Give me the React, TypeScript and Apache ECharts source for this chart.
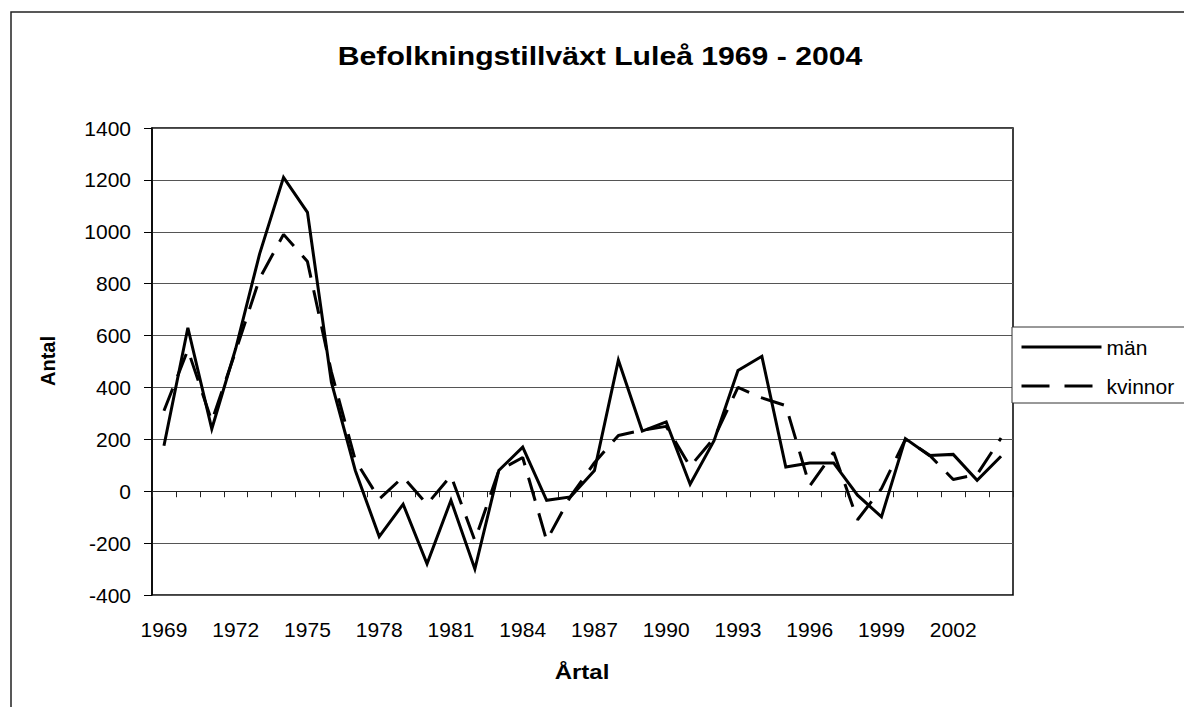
import React, { useEffect, useRef } from "react";
import * as echarts from "echarts";

const years: string[] = [];
for (let y = 1969; y <= 2004; y++) years.push(String(y));

const titleText = "Befolkningstillväxt Luleå 1969 - 2004";
const xAxisTitle = "Årtal";
const yAxisTitle = "Antal";

const menName = "män";
const womenName = "kvinnor";

const men = [175, 630, 240, 550, 915, 1210, 1075, 420, 80, -175, -50, -280, -35, -300, 80, 170, -35, -22, 80, 505, 232, 267, 27, 195, 465, 520, 93, 109, 109, -15, -99, 203, 138, 142, 42, 135];
const women = [310, 545, 270, 540, 820, 990, 885, 460, 120, -30, 55, -50, 60, -190, 80, 130, -190, -20, 110, 215, 235, 250, 95, 205, 400, 360, 330, 20, 150, -110, 10, 200, 140, 45, 65, 205];

const yMin = -400;
const yMax = 1400;
const yStep = 200;

const FONT = "Liberation Sans, Arial, sans-serif";

export default function App() {
  const ref = useRef<HTMLDivElement>(null);
  useEffect(() => {
    if (!ref.current) return;
    const chart = echarts.init(ref.current, undefined, { renderer: "svg" });
    const gLeft = 152, gTop = 128, gW = 861, gH = 467;
    chart.setOption({
      animation: false,
      backgroundColor: "#ffffff",
      grid: {
        left: gLeft,
        top: gTop,
        width: gW,
        height: gH,
        show: true,
        borderColor: "#000",
        borderWidth: 1.5,
        containLabel: false,
      },
      graphic: [
        {
          type: "rect",
          shape: { x: 11, y: 12, width: 1200, height: 720 },
          style: { fill: "none", stroke: "#222", lineWidth: 1.5 },
          silent: true,
          z: -10,
        },
        {
          type: "text",
          x: 600,
          y: 56,
          scaleX: 1.16,
          style: {
            text: titleText,
            font: `bold 26px ${FONT}`,
            fill: "#000",
            align: "center",
            verticalAlign: "middle",
          },
        },
        {
          type: "text",
          x: 582,
          y: 672,
          scaleX: 1.2,
          style: {
            text: xAxisTitle,
            font: `bold 20px ${FONT}`,
            fill: "#000",
            align: "center",
            verticalAlign: "middle",
          },
        },
        {
          type: "text",
          x: 48,
          y: 361,
          rotation: Math.PI / 2,
          style: {
            text: yAxisTitle,
            font: `bold 20px ${FONT}`,
            fill: "#000",
            align: "center",
            verticalAlign: "middle",
          },
        },
      ],
      legend: {
        orient: "vertical",
        left: 1012,
        top: 327,
        padding: [8, 60, 5, 8],
        itemWidth: 80,
        itemHeight: 14,
        itemGap: 15,
        itemTextGap: 6,
        itemStyle: { opacity: 0 },
        backgroundColor: "#fff",
        borderColor: "#333",
        borderWidth: 1,
        textStyle: { fontFamily: FONT, fontSize: 21, color: "#000", lineHeight: 24 },
        data: [
          { name: menName, itemStyle: { opacity: 0 }, lineStyle: { width: 3, type: "solid", color: "#000", opacity: 1 } },
          { name: womenName, itemStyle: { opacity: 0 }, lineStyle: { width: 3, type: [28, 15], color: "#000", opacity: 1 } },
        ],
      },
      xAxis: [
        {
          type: "category",
          data: years,
          position: "bottom",
          boundaryGap: true,
          axisLine: { show: true, onZero: true, lineStyle: { color: "#222", width: 1 } },
          axisTick: { show: true, interval: 0, length: 6, inside: false, lineStyle: { color: "#222", width: 1 } },
          axisLabel: { show: false },
          splitLine: { show: false },
        },
        {
          type: "category",
          data: years,
          position: "bottom",
          boundaryGap: true,
          axisLine: { show: false, onZero: false },
          axisTick: { show: false },
          axisLabel: {
            show: true,
            interval: 2,
            margin: 24,
            fontFamily: FONT,
            fontSize: 21,
            color: "#000",
          },
          splitLine: { show: false },
        },
      ],
      yAxis: {
        type: "value",
        min: yMin,
        max: yMax,
        interval: yStep,
        axisLine: { show: true, lineStyle: { color: "#000", width: 1.5 } },
        axisTick: { show: true, length: 8, inside: false, lineStyle: { color: "#000", width: 1 } },
        axisLabel: {
          margin: 21,
          fontFamily: FONT,
          fontSize: 21,
          color: "#000",
          formatter: (v: number) => String(v),
        },
        splitLine: { show: true, lineStyle: { color: "#555", width: 1 } },
      },
      series: [
        {
          name: menName,
          type: "line",
          xAxisIndex: 0,
          data: men,
          symbol: "none",
          lineStyle: { color: "#000", width: 3, type: "solid", join: "miter" },
          itemStyle: { color: "#000" },
          z: 3,
        },
        {
          name: womenName,
          type: "line",
          xAxisIndex: 0,
          data: women,
          symbol: "none",
          lineStyle: { color: "#000", width: 3, type: [24, 13] },
          itemStyle: { color: "#000" },
          z: 2,
        },
      ],
    });
    return () => chart.dispose();
  }, []);
  return (
    <div
      ref={ref}
      style={{ position: "absolute", left: 0, top: 0, width: 1184, height: 707 }}
    />
  );
}
